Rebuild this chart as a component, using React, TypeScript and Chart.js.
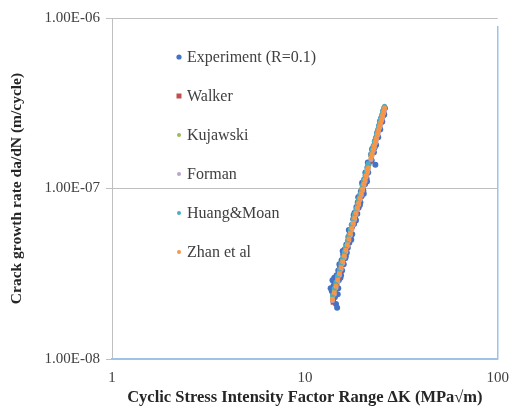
import React, { useEffect, useRef } from "react";
import { Chart, registerables } from "chart.js";

Chart.register(...registerables);

// Experimental data: ΔK (MPa√m) and da/dN in units of 1e-8 m/cycle
const expDK = [
  13.6, 13.8, 13.9, 14.0, 14.1, 14.2, 14.3, 14.4, 14.5, 14.6, 14.7, 14.8, 14.9, 15.0, 15.2, 15.3,
  15.5, 15.6, 15.8, 15.9, 16.1, 16.2, 16.4, 16.5, 16.7, 16.8, 17.0, 17.1, 17.3, 17.5, 17.6, 17.8,
  18.0, 18.1, 18.3, 18.5, 18.7, 18.8, 19.0, 19.2, 19.4, 19.5, 19.7, 19.9, 20.1, 20.3, 20.5, 20.7,
  20.9, 21.1, 21.3, 21.4, 22.0, 22.2, 22.5, 22.8, 23.1, 23.2, 23.4, 23.7, 24.0, 24.3, 24.6, 24.9,
  25.2, 25.5, 25.8, 26.0,
  15.1, 15.7, 16.3, 16.9, 17.4, 17.9, 18.4, 18.9, 19.3, 19.8, 20.2, 20.6, 21.0, 21.2, 14.3, 14.9,
  15.4, 22.3, 23.0, 24.5, 25.6,
];
const expRate = [
  2.6, 2.5, 2.9, 2.2, 2.7, 3.0, 2.3, 2.6, 2.1, 3.1, 2.0, 2.4, 3.3, 2.9, 3.5, 3.0,
  3.8, 3.3, 4.1, 3.6, 4.4, 3.9, 4.7, 4.2, 4.5, 5.2, 4.8, 5.6, 5.1, 6.1, 5.4, 6.6,
  6.2, 7.2, 6.6, 7.8, 7.1, 8.3, 7.7, 9.0, 8.3, 9.6, 9.0, 10.5, 9.7, 11.3, 10.6, 12.2,
  11.4, 13.3, 12.4, 13.9, 15.8, 14.6, 17.2, 16.3, 19.0, 13.8, 18.0, 21.2, 20.0, 23.4, 22.2, 25.8,
  24.6, 28.5, 27.2, 29.6,
  3.6, 4.3, 4.0, 5.7, 5.0, 7.0, 6.5, 8.9, 8.0, 10.8, 9.3, 12.4, 11.0, 14.2, 2.9, 2.6,
  3.1, 17.0, 17.4, 24.8, 26.9,
];

// Model predictions: ΔK grid and da/dN in units of 1e-8 m/cycle
const modelDK = [
  13.9, 14.2, 14.5, 14.8, 15.1, 15.4, 15.7, 16.0, 16.3, 16.6, 16.9, 17.2, 17.5, 17.8, 18.1, 18.4,
  18.7, 19.0, 19.3, 19.6, 19.9, 20.2, 20.5, 20.8, 21.1, 21.3, 22.0, 22.3, 22.6, 22.9, 23.2, 23.5,
  23.8, 24.1, 24.4, 24.7, 25.0, 25.3, 25.6, 25.9,
];
const walkerRate = [
  2.13, 2.33, 2.54, 2.76, 3.0, 3.26, 3.53, 3.82, 4.12, 4.45, 4.8, 5.16, 5.54, 5.95, 6.37, 6.82,
  7.3, 7.79, 8.31, 8.86, 9.44, 10.1, 10.6, 11.3, 12.1, 12.5, 14.3, 15.1, 16.1, 16.9, 17.9, 18.8,
  19.9, 20.9, 22.0, 23.2, 24.3, 25.6, 26.9, 28.2,
];
const kujawskiRate = [
  2.31, 2.52, 2.75, 3.0, 3.25, 3.53, 3.83, 4.14, 4.47, 4.82, 5.2, 5.59, 6.0, 6.45, 6.91, 7.4,
  7.91, 8.45, 9.01, 9.61, 10.2, 10.9, 11.5, 12.3, 13.1, 13.6, 15.6, 16.4, 17.4, 18.3, 19.4, 20.4,
  21.5, 22.7, 23.9, 25.1, 26.4, 27.7, 29.1, 30.2,
];
const formanRate = [
  2.2, 2.4, 2.62, 2.85, 3.1, 3.36, 3.65, 3.94, 4.25, 4.59, 4.95, 5.32, 5.71, 6.13, 6.58, 7.04,
  7.53, 8.04, 8.58, 9.14, 9.74, 10.4, 11.0, 11.7, 12.4, 12.9, 14.8, 15.6, 16.6, 17.4, 18.4, 19.4,
  20.5, 21.6, 22.7, 23.9, 25.1, 26.4, 27.7, 29.1,
];
const huangMoanRate = [
  2.37, 2.6, 2.83, 3.08, 3.35, 3.64, 3.94, 4.26, 4.6, 4.96, 5.35, 5.76, 6.18, 6.64, 7.11, 7.61,
  8.14, 8.69, 9.28, 9.89, 10.5, 11.2, 11.9, 12.6, 13.5, 14.0, 16.0, 16.9, 17.9, 18.9, 19.9, 21.0,
  22.2, 23.3, 24.6, 25.9, 27.1, 28.5, 29.8, 30.4,
];
const zhanRate = [
  2.24, 2.45, 2.67, 2.91, 3.16, 3.43, 3.72, 4.02, 4.34, 4.68, 5.05, 5.43, 5.83, 6.26, 6.71, 7.18,
  7.68, 8.2, 8.75, 9.33, 9.94, 10.6, 11.2, 11.9, 12.7, 13.2, 15.1, 15.9, 16.9, 17.8, 18.8, 19.8,
  20.9, 22.0, 23.2, 24.4, 25.6, 26.9, 28.3, 29.7,
];

const rateUnit = 1e-8;

const seriesNames = ["Experiment (R=0.1)", "Walker", "Kujawski", "Forman", "Huang&Moan", "Zhan et al"];
const seriesColors = ["#4472C4", "#C0504D", "#9BBB59", "#B7A6CE", "#4BACC6", "#F79646"];

const xTickValues = [1, 10, 100];
const xTickLabels = ["1", "10", "100"];
const yTickValues = [1e-8, 1e-7, 1e-6];
const yTickLabels = ["1.00E-08", "1.00E-07", "1.00E-06"];

const xTitle = "Cyclic Stress Intensity Factor Range ΔK (MPa√m)";
const yTitle = "Crack growth rate da/dN (m/cycle)";

const FONT = "'Liberation Serif', 'Times New Roman', serif";

function toPoints(xs: number[], ys: number[]) {
  return xs.map((x, i) => ({ x, y: ys[i] * rateUnit }));
}

const framePlugin = {
  id: "frameAndLegend",
  afterDraw(chart: any) {
    const { ctx, chartArea } = chart;
    ctx.save();
    // blue frame on bottom and right
    ctx.strokeStyle = "#9DC3E6";
    ctx.lineWidth = 1.5;
    ctx.beginPath();
    ctx.moveTo(chartArea.left, chartArea.bottom);
    ctx.lineTo(chartArea.right, chartArea.bottom);
    ctx.lineTo(chartArea.right, chartArea.top + 8);
    ctx.stroke();

    // inner legend
    ctx.font = `16px ${FONT}`;
    ctx.textBaseline = "middle";
    ctx.textAlign = "left";
    chart.data.datasets.forEach((ds: any, i: number) => {
      const y = chartArea.top + 39 + i * 39;
      const x = chartArea.left + 67;
      ctx.fillStyle = ds.backgroundColor;
      ctx.beginPath();
      if (i === 1) {
        ctx.rect(x - 2.5, y - 2.5, 5, 5);
      } else {
        ctx.arc(x, y, i === 0 ? 2.6 : 2.0, 0, Math.PI * 2);
      }
      ctx.fill();
      ctx.fillStyle = "#404040";
      ctx.fillText(ds.label, x + 8, y + 1);
    });
    ctx.restore();
  },
};

export default function App() {
  const canvasRef = useRef<HTMLCanvasElement | null>(null);

  useEffect(() => {
    document.body.style.margin = "0";
    const canvas = canvasRef.current;
    if (!canvas) return;

    const rates = [expRate, walkerRate, kujawskiRate, formanRate, huangMoanRate, zhanRate];
    const datasets = rates.map((r, i) => ({
      label: seriesNames[i],
      data: i === 0 ? toPoints(expDK, r) : toPoints(modelDK, r),
      backgroundColor: seriesColors[i],
      borderColor: seriesColors[i],
      pointRadius: i === 0 ? 3 : 2.5,
      pointBorderWidth: 0,
      pointStyle: i === 1 ? "rect" : "circle",
      showLine: false,
      order: 5 - i,
    }));

    const chart = new Chart(canvas, {
      type: "scatter",
      data: { datasets },
      options: {
        animation: false,
        responsive: true,
        maintainAspectRatio: false,
        layout: { padding: { top: 18, right: 13, left: 0, bottom: 0 } },
        plugins: {
          legend: { display: false },
          tooltip: { enabled: false },
        },
        scales: {
          x: {
            type: "logarithmic",
            position: "bottom",
            min: 1,
            max: 100,
            afterBuildTicks: (s: any) => {
              s.ticks = xTickValues.map((v) => ({ value: v }));
            },
            afterFit: (s: any) => {
              s.height = 49;
            },
            ticks: {
              callback: (_v: any, i: number) => xTickLabels[i],
              font: { family: FONT, size: 15 },
              color: "#404040",
              padding: 10,
              maxRotation: 0,
              autoSkip: false,
            },
            grid: { color: "rgba(0,0,0,0)", drawTicks: false },
            border: { color: "#9DC3E6", width: 1.5 },
            title: {
              display: true,
              text: xTitle,
              font: { family: FONT, size: 16.5, weight: "bold" },
              color: "#262626",
              padding: { top: 0, bottom: 0 },
            },
          },
          y: {
            type: "logarithmic",
            min: 1e-8,
            max: 1e-6,
            afterBuildTicks: (s: any) => {
              s.ticks = yTickValues.map((v) => ({ value: v }));
            },
            afterFit: (s: any) => {
              s.width = 112;
            },
            ticks: {
              callback: (_v: any, i: number) => yTickLabels[i],
              font: { family: FONT, size: 15 },
              color: "#404040",
              padding: 6,
              autoSkip: false,
            },
            grid: { color: "#BFBFBF", tickLength: 6, drawTicks: true },
            border: { color: "#BFBFBF", width: 1 },
            title: {
              display: true,
              text: yTitle,
              font: { family: FONT, size: 15.5, weight: "bold" },
              color: "#262626",
              padding: { top: 8, bottom: 0 },
            },
          },
        },
      },
      plugins: [framePlugin],
    } as any);

    return () => chart.destroy();
  }, []);

  return (
    <div style={{ width: 519, height: 408, position: "relative", background: "#fff" }}>
      <canvas ref={canvasRef} />
    </div>
  );
}
